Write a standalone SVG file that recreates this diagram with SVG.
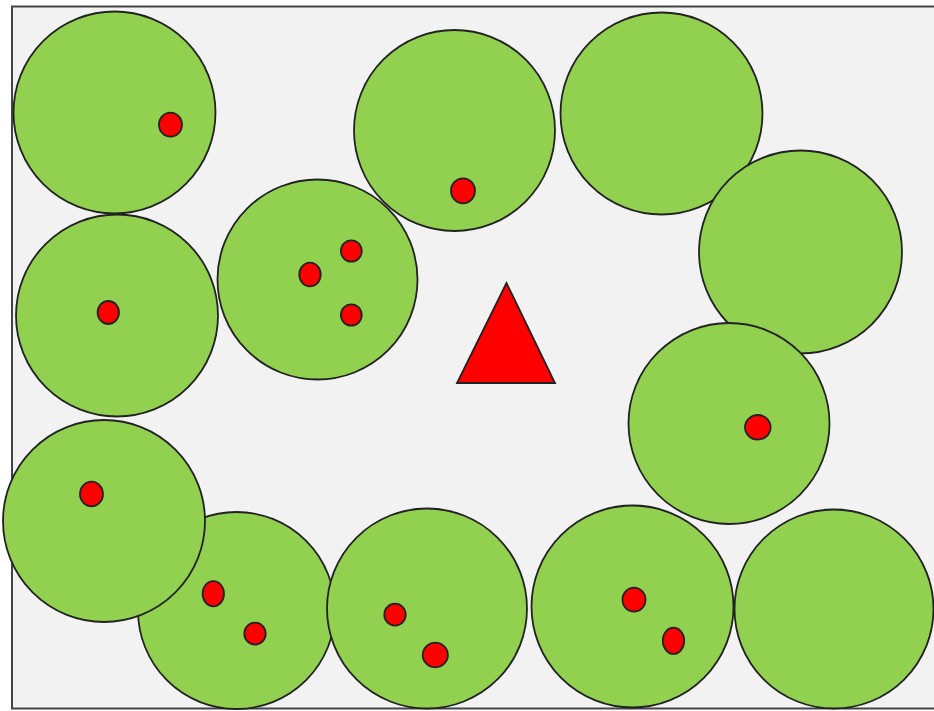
<svg xmlns="http://www.w3.org/2000/svg" width="934" height="711" viewBox="0 0 934 711">
<style>
.frame{fill:#f2f2f2;stroke:#444;stroke-width:2}
.tree{fill:#92d050;stroke:#222;stroke-width:1.8}
.dot{fill:#ff0000;stroke:#222;stroke-width:1.8}
.tri{fill:#ff0000;stroke:#222;stroke-width:1.8;stroke-linejoin:miter}
</style>
<rect class="frame" x="12" y="6.5" width="940" height="702"/>
<g id="c1"><circle class="tree" cx="114.5" cy="112.5" r="101"/><ellipse class="dot" cx="170.5" cy="124.7" rx="11.5" ry="12"/></g>
<g id="c2"><circle class="tree" cx="117" cy="315.5" r="101"/><ellipse class="dot" cx="108.3" cy="312.5" rx="10.7" ry="11.5"/></g>
<g id="c4"><circle class="tree" cx="236.5" cy="610.5" r="98.5"/><ellipse class="dot" cx="213.3" cy="593.7" rx="10.7" ry="12.6"/><ellipse class="dot" cx="255" cy="633.7" rx="10.7" ry="11"/></g>
<g id="c3"><circle class="tree" cx="104" cy="521" r="101"/><ellipse class="dot" cx="91.5" cy="494" rx="11.5" ry="12.3"/></g>
<g id="c5"><circle class="tree" cx="427" cy="608.5" r="100"/><ellipse class="dot" cx="395" cy="614.7" rx="10.7" ry="11"/><ellipse class="dot" cx="435.3" cy="655" rx="12.6" ry="12.3"/></g>
<g id="c6"><circle class="tree" cx="632.5" cy="606.5" r="101"/><ellipse class="dot" cx="634" cy="599.7" rx="11.5" ry="12"/><ellipse class="dot" cx="673.5" cy="640.8" rx="10.7" ry="13.1"/></g>
<g id="c7"><circle class="tree" cx="834" cy="609" r="99.5"/></g>
<g id="c8"><circle class="tree" cx="317.5" cy="279.5" r="100"/><ellipse class="dot" cx="310" cy="274.5" rx="10.7" ry="11.9"/><ellipse class="dot" cx="351.3" cy="251" rx="10.4" ry="10.7"/><ellipse class="dot" cx="351.3" cy="315" rx="10.4" ry="10.7"/></g>
<g id="c9"><circle class="tree" cx="454.5" cy="130.5" r="100.5"/><ellipse class="dot" cx="463" cy="190.8" rx="12" ry="12.5"/></g>
<g id="c10"><circle class="tree" cx="661.5" cy="113.5" r="101"/></g>
<g id="c11"><circle class="tree" cx="800.5" cy="252" r="101.5"/></g>
<g id="c12"><circle class="tree" cx="729" cy="423.5" r="100.5"/><ellipse class="dot" cx="757.8" cy="427.3" rx="12.8" ry="12.3"/></g>
<g id="triangle"><polygon class="tri" points="506.5,283 457,383 555,383"/></g>
<g id="connectors"></g>
</svg>
